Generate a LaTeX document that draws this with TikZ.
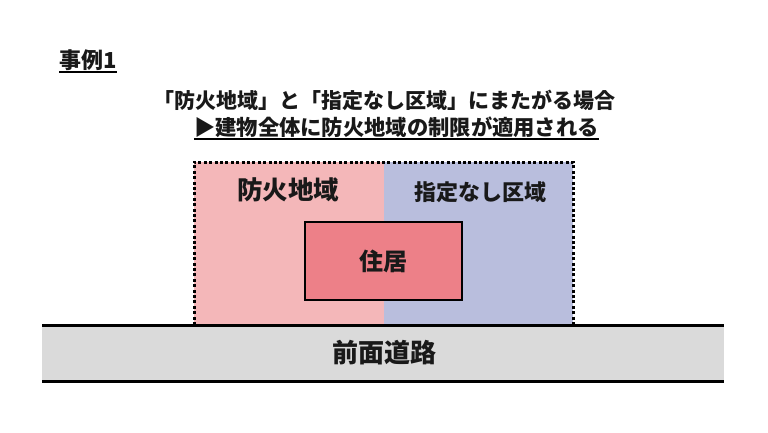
\documentclass[tikz,border=0pt]{standalone}
\usepackage{fontspec}
\setmainfont{Noto Sans CJK JP}
\begin{document}
\begin{tikzpicture}[x=1pt,y=-1pt,
  lbl/.style={font=\bfseries, inner sep=0pt, text=black!90},
  roadline/.style={line width=3pt, black},
  zoneborder/.style={line width=3pt, dash pattern=on 3pt off 2.4pt}]
\useasboundingbox[fill=white] (0,0) rectangle (768,432);
% zones
\fill[fill={rgb,255:red,244;green,183;blue,185}] (194,162) rectangle (384,325);
\fill[fill={rgb,255:red,185;green,190;blue,221}] (384,162) rectangle (573,325);
\draw[zoneborder] (194,325) -- (194,162) -- (573,162) -- (573,325);
% road
\fill[fill={rgb,255:red,218;green,218;blue,218}] (42,325) rectangle (724,381);
\draw[roadline] (42,325) -- (724,325);
\draw[roadline] (42,381) -- (724,381);
% house
\node[draw, line width=2.2pt, fill={rgb,255:red,237;green,128;blue,136}, minimum width=157pt, minimum height=78pt, inner sep=0pt] (house) at (383.5,261) {};
\node[lbl, font=\fontsize{24}{24}\selectfont\bfseries] (houselbl) at (house.center) {住居};
\node[lbl, font=\fontsize{25.5}{25}\selectfont\bfseries] (zone1) at (288,190) {防火地域};
\node[lbl, font=\fontsize{22}{22}\selectfont\bfseries] (zone2) at (480,192) {指定なし区域};
\node[lbl, font=\fontsize{26}{26}\selectfont\bfseries] (road) at (384,353) {前面道路};
% titles
\node[lbl, font=\fontsize{22}{22}\selectfont\bfseries, anchor=base west] (case) at (59,68) {事例1};
\draw[line width=1.6pt] ([yshift=-4pt]case.base west) -- ([yshift=-4pt]case.base east);
\node[lbl, font=\fontsize{21}{21}\selectfont\bfseries] (line2) at (384,100) {「防火地域」と「指定なし区域」にまたがる場合};
\node[lbl, font=\fontsize{21.3}{21}\selectfont\bfseries] (line3) at (396.5,127) {▶建物全体に防火地域の制限が適用される};
\draw[line width=1.6pt] ([yshift=-4pt]line3.base west) -- ([yshift=-4pt]line3.base east);
\end{tikzpicture}
\end{document}
